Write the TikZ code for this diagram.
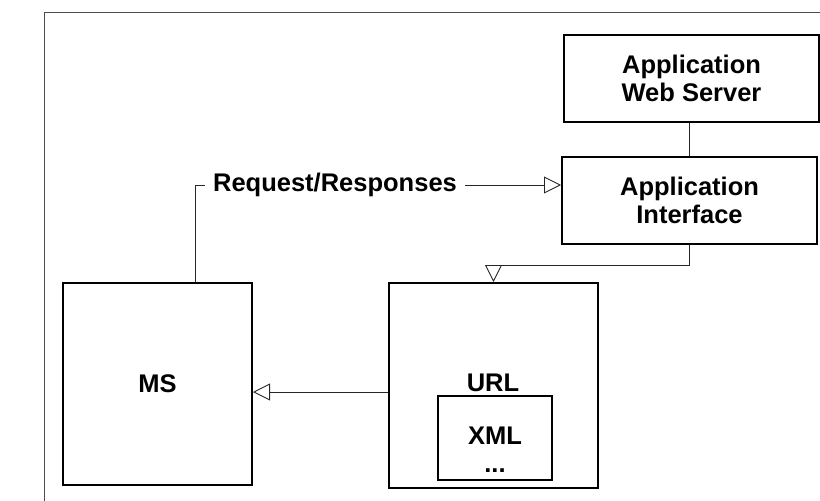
\documentclass[tikz,border=0pt]{standalone}
\usepackage{fontspec}
\setmainfont{Liberation Sans}
\usetikzlibrary{arrows.meta}
\begin{document}
\begin{tikzpicture}[x=1pt,y=-1pt,
  box/.style={draw=black, line width=2pt, fill=white, inner sep=0pt,
    font=\bfseries\fontsize{25.5}{28.5}\selectfont, align=center},
  lbl/.style={inner sep=0pt, font=\bfseries\fontsize{25.5}{28.5}\selectfont},
  link/.style={draw=black!85, line width=0.9pt},
  arr/.style={link, -{Triangle[open, fill=white, length=17pt, width=17pt]}},
  frame/.style={draw=black!70, line width=1pt}]
\useasboundingbox (0,0) rectangle (820,501);

% page frame
\draw[frame] (44,501) -- (44,12) -- (820,12);

% boxes
\node[box, minimum width=255pt, minimum height=87pt] (ws) at (691.5,78.5)
  {Application\\Web Server};
\node[box, minimum width=255pt, minimum height=87pt] (ai) at (689.5,200.5)
  {Application\\Interface};
\node[box, minimum width=189pt, minimum height=202pt] (ms) at (157.5,384) {MS};
\node[box, minimum width=209pt, minimum height=205pt] (url) at (493.5,385.5) {};
\node[box, minimum width=114pt, minimum height=84pt] (xml) at (495,438) {};
\node[lbl] (urlt) at (493,383) {URL};
\node[lbl] (xmlt) at (495,436) {XML};
\node[lbl] (dots) at (495,471) {...};

% connectors
\draw[link] (ai.north) -- (ai.north |- ws.south);

\coordinate (bend) at (493.5,265);
\draw[arr] (ai.south) |- (bend) -- (url.north);

\coordinate (lvl) at (0,392);
\draw[arr] (url.west |- lvl) -- (ms.east |- lvl);

\coordinate (rq) at (195,185);
\draw[arr] (ms.north -| rq) -- (rq) -- (ai.west |- rq);
\node[lbl, fill=white, inner xsep=8pt, inner ysep=2pt] (rqt) at (335,185)
  {Request/Responses};
\end{tikzpicture}
\end{document}
